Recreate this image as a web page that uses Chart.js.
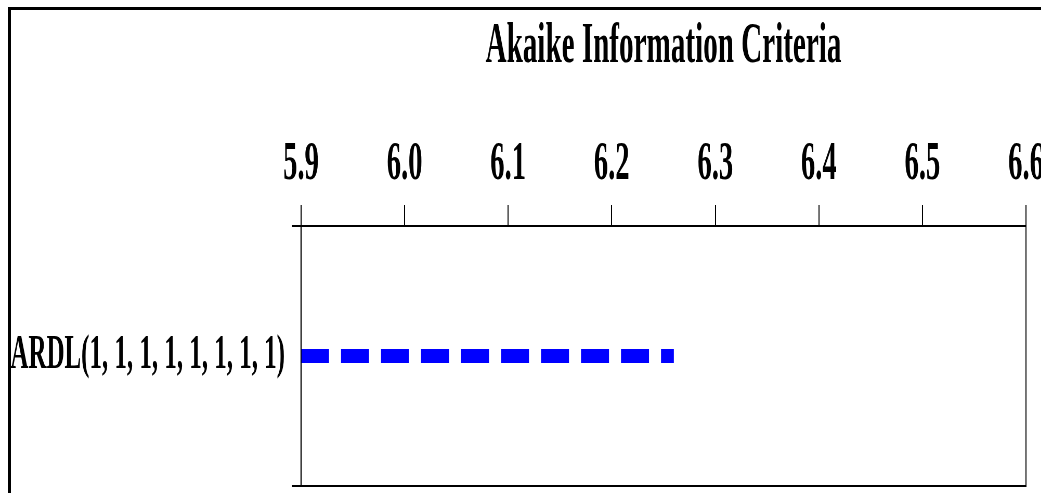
<!DOCTYPE html>
<html>
<head>
<meta charset="utf-8">
<script src="https://cdn.jsdelivr.net/npm/chart.js@4.4.1/dist/chart.umd.min.js"></script>
<style>
  html, body { margin: 0; padding: 0; background: #fff; overflow: hidden; }
  #wrap { position: absolute; left: 0; top: 0; width: 2002px; height: 493px;
          transform: scaleX(0.52); transform-origin: 0 0; }
  #frame { position: absolute; left: 8px; top: 7px; width: 1100px; height: 600px;
           border-left: 3px solid #000; border-top: 3px solid #000; }
</style>
</head>
<body>
<div id="wrap"><canvas id="canvas"></canvas></div>
<div id="frame"></div>
<script>
// text is drawn on a wide canvas and squeezed, to get the condensed look
var squeeze = 0.52;

var categories = ['ARDL(1, 1, 1, 1, 1, 1, 1, 1)'];
var aicValues = [6.26];
var xMin = 5.9, xMax = 6.6, xStep = 0.1;
var titleText = 'Akaike Information Criteria';

var titleSize = 56, topPad = 20;

var points = [];
categories.forEach(function (c, i) {
    points.push({ x: xMin, y: c });
    points.push({ x: aicValues[i], y: c });
});

// outline of the plot box
var boxPlugin = {
    id: 'box',
    afterDraw: function (chart) {
        var a = chart.chartArea, ctx = chart.ctx;
        ctx.save();
        ctx.strokeStyle = '#000';
        ctx.lineWidth = 2;
        ctx.strokeRect(a.left, a.top, a.right - a.left, a.bottom - a.top);
        ctx.restore();
    }
};

var ctx = document.getElementById('canvas').getContext('2d');
var config = {
    type: 'line',
    data: {
        datasets: [{
            data: points,
            borderColor: '#0000ff',
            borderWidth: 14,
            borderDash: [28 / squeeze, 12 / squeeze],
            borderCapStyle: 'butt',
            pointRadius: 0,
            fill: false
        }]
    },
    plugins: [boxPlugin],
    options: {
        responsive: true,
        maintainAspectRatio: false,
        animation: false,
        indexAxis: 'y',
        layout: { padding: { top: topPad, right: 29, bottom: 7, left: 0 } },
        plugins: {
            legend: { display: false },
            tooltip: { enabled: false },
            title: {
                display: true,
                fullSize: false,
                text: titleText,
                color: '#000',
                padding: 0,
                font: { family: 'Liberation Serif', weight: 'bold', size: titleSize, lineHeight: 1 }
            }
        },
        scales: {
            x: {
                type: 'linear',
                position: 'top',
                min: xMin,
                max: xMax,
                ticks: {
                    stepSize: xStep,
                    color: '#000',
                    padding: 13,
                    maxRotation: 0,
                    font: { family: 'Liberation Serif', weight: 'bold', size: 55, lineHeight: 1 },
                    callback: function (v) { return Number(v).toFixed(1); }
                },
                grid: { drawOnChartArea: false, tickLength: 21, color: '#000', lineWidth: 2 },
                border: { display: true, color: '#000', width: 2 },
                afterFit: function (scale) {
                    scale.height = 226 - topPad - titleSize;
                    scale.paddingLeft = 0;
                    scale.paddingRight = 0;
                }
            },
            y: {
                type: 'category',
                labels: categories,
                offset: true,
                ticks: {
                    color: '#000',
                    padding: 7 / squeeze,
                    font: { family: 'Liberation Serif', weight: 'bold', size: 48, lineHeight: 1 }
                },
                grid: { offset: true, drawOnChartArea: false, tickLength: 9 / squeeze, color: '#000', lineWidth: 2 },
                border: { display: true, color: '#000', width: 2 },
                afterFit: function (scale) {
                    scale.width = 301 / squeeze;
                    scale.paddingTop = 0;
                    scale.paddingBottom = 0;
                }
            }
        }
    }
};
window.myChart = new Chart(ctx, config);
</script>
</body>
</html>
